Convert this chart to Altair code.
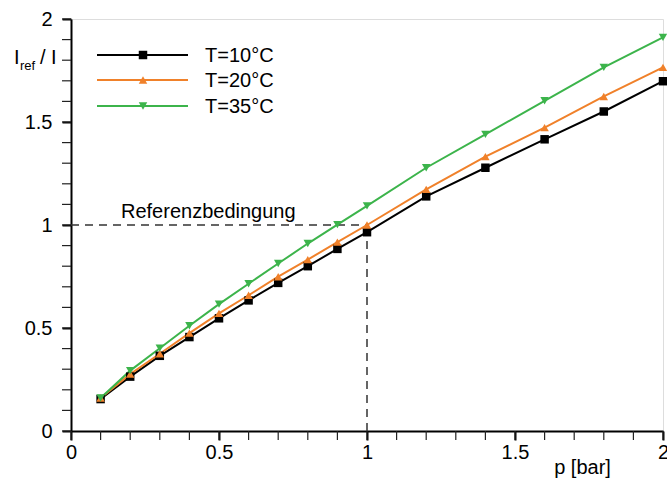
import altair as alt
import pandas as pd

# ---- data ----
p_bar = [0.1, 0.2, 0.3, 0.4, 0.5, 0.6, 0.7, 0.8, 0.9, 1.0, 1.2, 1.4, 1.6, 1.8, 2.0]
t10 = [0.155, 0.264, 0.365, 0.456, 0.547, 0.634, 0.719, 0.800, 0.884, 0.965, 1.139, 1.278, 1.416, 1.551, 1.698]
t20 = [0.160, 0.276, 0.375, 0.475, 0.571, 0.659, 0.749, 0.832, 0.917, 1.000, 1.173, 1.332, 1.473, 1.624, 1.765]
t35 = [0.160, 0.293, 0.402, 0.511, 0.616, 0.715, 0.813, 0.910, 1.002, 1.093, 1.278, 1.440, 1.603, 1.765, 1.911]
series_names = ["T=10°C", "T=20°C", "T=35°C"]
series_colors = ["#000000", "#f0812a", "#3cb44b"]
series_shapes = ["square", "triangle-up", "triangle-down"]
minor_ticks = [round(i * 0.1, 1) for i in range(21)]
major_ticks = [0, 0.5, 1, 1.5, 2]
ref_label = "Referenzbedingung"
x_title = "p [bar]"

FONT = "Liberation Sans"
FS = 20
W, H = 592, 412

rows = []
for name, vals in zip(series_names, [t10, t20, t35]):
    for p, v in zip(p_bar, vals):
        rows.append({"p": p, "v": v, "T": name})
df = pd.DataFrame(rows)

common = dict(values=major_ticks, format="~g", tickSize=9, tickWidth=2,
              tickColor="#000", labelFontSize=FS, labelFont=FONT, labelColor="#000",
              domainColor="#000", domainWidth=2, grid=False, labelOverlap=False,
              labelFlush=False)
x_axis = alt.Axis(labelPadding=2, title=x_title, titleX=511, titleY=42, titleAlign="center",
                  titleBaseline="alphabetic", titleFontWeight="normal", titleFontSize=FS,
                  titleFont=FONT, titleColor="#000", **common)
y_axis = alt.Axis(labelPadding=10, title=None, **common)

xs = alt.Scale(domain=[0, 2], nice=False, zero=False)
ys = alt.Scale(domain=[0, 2], nice=False, zero=False)


def X(field):
    return alt.X(field, type="quantitative", scale=xs, axis=x_axis)


def Y(field):
    return alt.Y(field, type="quantitative", scale=ys, axis=y_axis)


base = alt.Chart(df).encode(
    x=X("p"), y=Y("v"),
    color=alt.Color("T:N", scale=alt.Scale(domain=series_names, range=series_colors), legend=None),
)
lines = base.mark_line(strokeWidth=2)
points = base.mark_point(filled=True, size=72, opacity=1).encode(
    shape=alt.Shape("T:N", scale=alt.Scale(domain=series_names, range=series_shapes), legend=None)
)

# minor ticks (every 0.1)
min_df = pd.DataFrame({"m": minor_ticks})
min_x = alt.Chart(min_df).mark_rule(color="#222", strokeWidth=1.2).encode(
    x=X("m"), y=alt.value(H), y2=alt.value(H + 9))
min_y = alt.Chart(min_df).mark_rule(color="#222", strokeWidth=1.2).encode(
    y=Y("m"), x=alt.value(-9), x2=alt.value(0))

ref_df = pd.DataFrame({"x": [0.0, 1.0], "x2": [1.0, 1.0], "y": [1.0, 0.0], "y2": [1.0, 1.0]})
ref_rules = alt.Chart(ref_df).mark_rule(strokeDash=[8, 6], color="#333333", strokeWidth=1.5).encode(
    x=X("x"), x2="x2:Q", y=Y("y"), y2="y2:Q"
)

one = pd.DataFrame({"a": [0]})
ref_text = alt.Chart(one).mark_text(text=ref_label, align="left", baseline="alphabetic",
                                    fontSize=FS, font=FONT, color="#000").encode(
    x=alt.value(50), y=alt.value(199))

layers = [min_x, min_y, lines, ref_rules, points, ref_text]

# y label I_ref / I
layers.append(alt.Chart(one).mark_text(text="I", align="left", baseline="alphabetic",
              fontSize=FS, font=FONT, color="#000").encode(x=alt.value(-57), y=alt.value(45)))
layers.append(alt.Chart(one).mark_text(text="ref", align="left", baseline="alphabetic",
              fontSize=13, font=FONT, color="#000").encode(x=alt.value(-51), y=alt.value(51)))
layers.append(alt.Chart(one).mark_text(text="/ I", align="left", baseline="alphabetic",
              fontSize=FS, font=FONT, color="#000").encode(x=alt.value(-31), y=alt.value(45)))

# legend
leg_y = [36, 61, 87]
for name, col, shp, yy in zip(series_names, series_colors, series_shapes, leg_y):
    layers.append(alt.Chart(one).mark_rule(color=col, strokeWidth=2).encode(
        x=alt.value(26), x2=alt.value(117), y=alt.value(yy)))
    layers.append(alt.Chart(one).mark_point(filled=True, size=72, opacity=1, color=col, shape=shp).encode(
        x=alt.value(72), y=alt.value(yy)))
    layers.append(alt.Chart(one).mark_text(text=name, align="left", baseline="middle",
                  fontSize=FS, font=FONT, color="#000").encode(x=alt.value(134), y=alt.value(yy + 1)))

chart = alt.layer(*layers).properties(
    width=W, height=H,
    autosize=alt.AutoSizeParams(type="none"),
    padding={"left": 71, "top": 19, "right": 4, "bottom": 47},
).configure_view(stroke="#000", strokeWidth=2).configure(font=FONT)

chart.save("out.html", embed_options={"renderer": "svg", "actions": False})
